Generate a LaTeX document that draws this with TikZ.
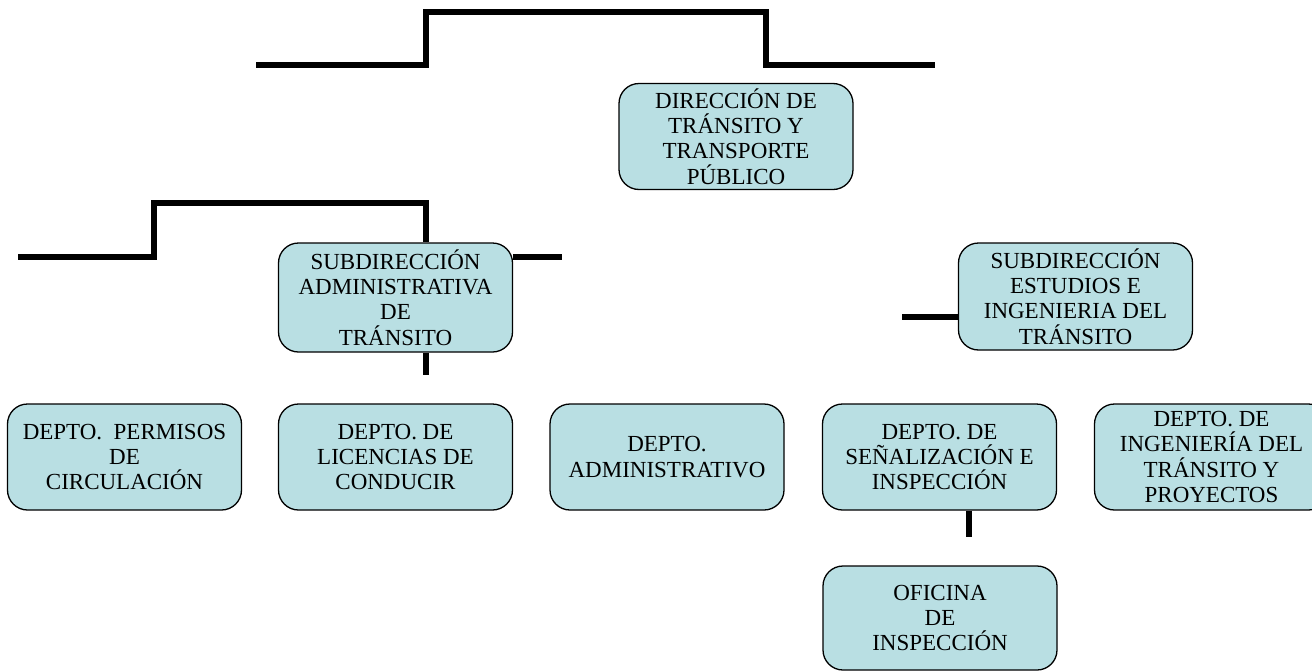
\documentclass[tikz,border=0pt]{standalone}
\usepackage{fontspec}
\setmainfont{Liberation Serif}
\definecolor{boxfill}{HTML}{B9DFE3}
\begin{document}
\begin{tikzpicture}[x=1pt,y=-1pt,
  orgbox/.style={draw=black,line width=1.3pt,fill=boxfill,rounded corners=20pt,
    minimum width=234pt,minimum height=106pt,inner sep=0pt,align=center,
    font=\fontsize{23}{25.2}\selectfont},
  conn/.style={line width=5.5pt,line join=miter,line cap=butt}]
\useasboundingbox (0,0) rectangle (1312,672);
\clip (0,0) rectangle (1312,672);
% boxes
\node[orgbox] (dir) at (736,136.5) {DIRECCIÓN DE\\TRÁNSITO Y\\TRANSPORTE\\PÚBLICO};
\node[orgbox,minimum height=109pt] (subA) at (395.5,297.5) {SUBDIRECCIÓN\\ADMINISTRATIVA\\DE\\TRÁNSITO};
\node[orgbox,minimum height=107pt] (subB) at (1075.5,296.5) {SUBDIRECCIÓN\\ESTUDIOS E\\INGENIERIA DEL\\TRÁNSITO};
\node[orgbox] (d1) at (124.5,457) {DEPTO.\ \ PERMISOS\\DE\\CIRCULACIÓN};
\node[orgbox] (d2) at (395.5,457) {DEPTO. DE\\LICENCIAS DE\\CONDUCIR};
\node[orgbox] (d3) at (667,457) {DEPTO.\\ADMINISTRATIVO};
\node[orgbox] (d4) at (939.5,457) {DEPTO. DE\\SEÑALIZACIÓN E\\INSPECCIÓN};
\node[orgbox] (d5) at (1211.5,457) {DEPTO. DE\\INGENIERÍA DEL\\TRÁNSITO Y\\PROYECTOS};
\node[orgbox,minimum height=104pt] (ofi) at (940,618) {OFICINA\\DE\\INSPECCIÓN};
% free ends of connectors
\coordinate (t1) at (256,65);
\coordinate (t2) at (426,12);
\coordinate (t3) at (766,12);
\coordinate (t4) at (935,65);
\coordinate (a1) at (18,257);
\coordinate (a2) at (154,203);
\coordinate (a3) at (426,203);
\coordinate (a4) at (562,257);
\coordinate (a5) at (426,375);
\coordinate (b1) at (902,317);
\coordinate (c1) at (969,537);
% connectors
\draw[conn] (t1) -| (t2) -| (t3) |- (t4);
\draw[conn] (a1) -| (a2) -| (subA.north -| a3);
\draw[conn] (subA.east |- a4) -- (a4);
\draw[conn] (subA.south -| a5) -- (a5);
\draw[conn] (b1) -- (subB.west |- b1);
\draw[conn] (d4.south -| c1) -- (c1);
\end{tikzpicture}
\end{document}
